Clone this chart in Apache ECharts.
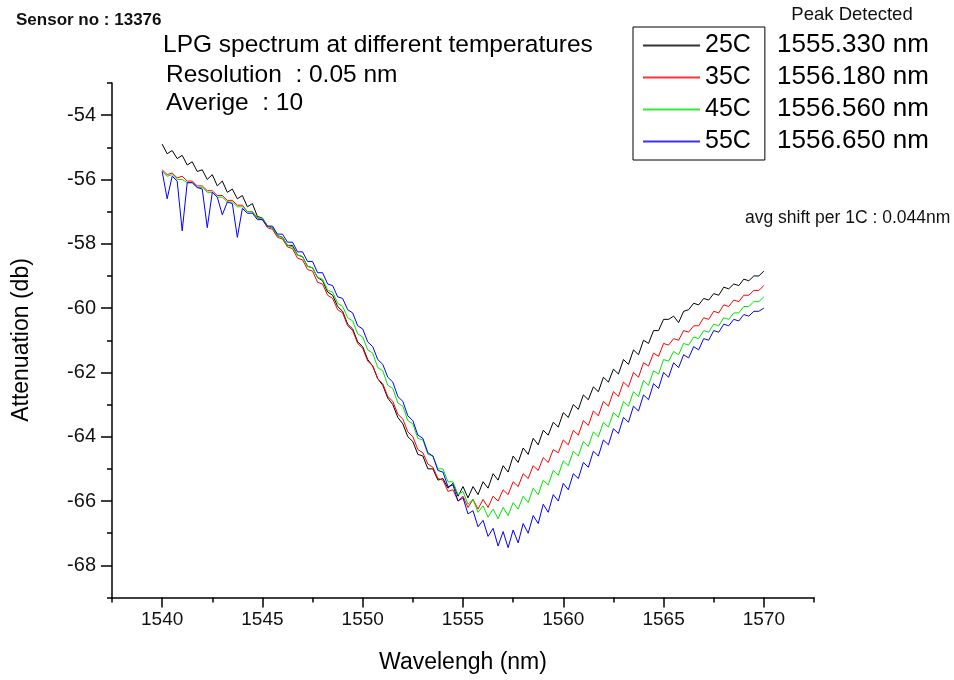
<!DOCTYPE html>
<html>
<head>
<meta charset="utf-8">
<script src="https://cdn.jsdelivr.net/npm/echarts@6/dist/echarts.min.js"></script>
<style>
  html, body { margin: 0; padding: 0; background: #fff; }
  #chart { width: 954px; height: 680px; }
</style>
</head>
<body>
<div id="chart"></div>
<script>
// Wavelength grid of the OSA sweep (nm), one row per nanometre
const wavelength = [
  1540, 1540.25, 1540.5, 1540.75, 1541, 1541.25, 1541.5, 1541.75,
  1542, 1542.25, 1542.5, 1542.75, 1543, 1543.25, 1543.5, 1543.75,
  1544, 1544.25, 1544.5, 1544.75, 1545, 1545.25, 1545.5, 1545.75,
  1546, 1546.25, 1546.5, 1546.75, 1547, 1547.25, 1547.5, 1547.75,
  1548, 1548.25, 1548.5, 1548.75, 1549, 1549.25, 1549.5, 1549.75,
  1550, 1550.25, 1550.5, 1550.75, 1551, 1551.25, 1551.5, 1551.75,
  1552, 1552.25, 1552.5, 1552.75, 1553, 1553.25, 1553.5, 1553.75,
  1554, 1554.25, 1554.5, 1554.75, 1555, 1555.25, 1555.5, 1555.75,
  1556, 1556.25, 1556.5, 1556.75, 1557, 1557.25, 1557.5, 1557.75,
  1558, 1558.25, 1558.5, 1558.75, 1559, 1559.25, 1559.5, 1559.75,
  1560, 1560.25, 1560.5, 1560.75, 1561, 1561.25, 1561.5, 1561.75,
  1562, 1562.25, 1562.5, 1562.75, 1563, 1563.25, 1563.5, 1563.75,
  1564, 1564.25, 1564.5, 1564.75, 1565, 1565.25, 1565.5, 1565.75,
  1566, 1566.25, 1566.5, 1566.75, 1567, 1567.25, 1567.5, 1567.75,
  1568, 1568.25, 1568.5, 1568.75, 1569, 1569.25, 1569.5, 1569.75,
  1570
];

// Attenuation (dB) at 25 C
const att25C = [
  -54.9, -55.2, -55.1, -55.35,   -55.25, -55.55, -55.45, -55.75,
  -55.7, -56.0, -55.85, -56.2,   -56.05, -56.4, -56.3, -56.6,
  -56.5, -56.85, -56.75, -57.15, -57.2, -57.45, -57.5, -57.75,
  -57.8, -58.05, -58.05, -58.35, -58.4, -58.7, -58.75, -59.05,
  -59.15, -59.5, -59.6, -59.95,  -60.1, -60.5, -60.65, -61.05,
  -61.2, -61.6, -61.8, -62.2,    -62.4, -62.8, -63.0, -63.4,
  -63.6, -64.0, -64.15, -64.55,  -64.6, -65.0, -65.0, -65.35,
  -65.3, -65.6, -65.45, -65.85,  -65.55, -65.9, -65.55, -65.8,
  -65.4, -65.6, -65.15, -65.35,  -64.9, -65.1, -64.6, -64.8,
  -64.35, -64.55, -64.05, -64.25, -63.8, -63.95, -63.55, -63.7,
  -63.25, -63.4, -63.0, -63.15,  -62.7, -62.85, -62.45, -62.6,
  -62.15, -62.3, -61.9, -62.05,  -61.6, -61.75, -61.3, -61.45,
  -61.0, -61.1, -60.7, -60.7,    -60.35, -60.35, -60.25, -60.45,
  -60.1, -60.05, -59.85, -59.9,  -59.7, -59.75, -59.55, -59.6,
  -59.35, -59.4, -59.25, -59.3,  -59.1, -59.15, -59.0, -59.0,
  -58.85
];

// Attenuation (dB) at 35 C
const att35C = [
  -55.7, -55.85, -55.8, -55.95,  -55.9, -56.05, -56.05, -56.2,
  -56.2, -56.35, -56.35, -56.5,  -56.5, -56.65, -56.65, -56.8,
  -56.8, -57.0, -57.0, -57.2,    -57.25, -57.5, -57.55, -57.8,
  -57.85, -58.1, -58.15, -58.45, -58.5, -58.8, -58.85, -59.2,
  -59.25, -59.6, -59.7, -60.05,  -60.15, -60.55, -60.7, -61.1,
  -61.25, -61.65, -61.8, -62.2,  -62.35, -62.75, -62.9, -63.3,
  -63.45, -63.85, -64.0, -64.4,  -64.5, -64.85, -64.95, -65.3,
  -65.35, -65.7, -65.65, -66.0,  -65.85, -66.2, -65.95, -66.25,
  -65.95, -66.2, -65.85, -66.0,  -65.65, -65.8, -65.4, -65.55,
  -65.15, -65.3, -64.9, -65.05,  -64.65, -64.8, -64.4, -64.5,
  -64.1, -64.25, -63.8, -63.95,  -63.5, -63.65, -63.2, -63.35,
  -62.9, -63.05, -62.6, -62.75,  -62.3, -62.45, -62.0, -62.15,
  -61.7, -61.8, -61.4, -61.5,    -61.1, -61.15, -60.95, -61.0,
  -60.7, -60.75, -60.55, -60.55, -60.3, -60.35, -60.1, -60.15,
  -59.9, -59.95, -59.75, -59.8,  -59.6, -59.6, -59.45, -59.45,
  -59.3
];

// Attenuation (dB) at 45 C
const att45C = [
  -55.75, -55.9, -55.85, -56.0,  -56.0, -56.1, -56.1, -56.25,
  -56.25, -56.4, -56.4, -56.55,  -56.55, -56.7, -56.7, -56.85,
  -56.85, -57.0, -57.0, -57.2,   -57.2, -57.45, -57.5, -57.75,
  -57.8, -58.05, -58.1, -58.35,  -58.4, -58.7, -58.75, -59.05,
  -59.1, -59.45, -59.5, -59.85,  -59.95, -60.3, -60.4, -60.8,
  -60.9, -61.3, -61.4, -61.85,   -61.95, -62.4, -62.5, -62.95,
  -63.05, -63.5, -63.6, -64.05,  -64.1, -64.55, -64.6, -65.0,
  -65.0, -65.4, -65.4, -65.8,    -65.7, -66.1, -65.95, -66.35,
  -66.15, -66.5, -66.25, -66.55, -66.2, -66.45, -66.05, -66.25,
  -65.85, -66.05, -65.6, -65.8,  -65.35, -65.5, -65.05, -65.2,
  -64.75, -64.9, -64.45, -64.6,  -64.15, -64.3, -63.85, -64.0,
  -63.55, -63.7, -63.25, -63.4,  -62.9, -63.05, -62.6, -62.75,
  -62.25, -62.4, -61.95, -62.05, -61.6, -61.65, -61.35, -61.45,
  -61.1, -61.15, -60.9, -60.95,  -60.7, -60.75, -60.5, -60.55,
  -60.3, -60.35, -60.15, -60.15, -59.95, -59.95, -59.8, -59.8,
  -59.65
];

// Attenuation (dB) at 55 C
const att55C = [
  -55.75, -56.6, -55.9, -56.05,  -57.6, -56.1, -56.1, -56.25,
  -56.3, -57.5, -56.4, -56.55,   -57.1, -56.7, -56.75, -57.8,
  -56.9, -57.05, -57.05, -57.25, -57.25, -57.45, -57.45, -57.7,
  -57.7, -57.95, -57.95, -58.25, -58.25, -58.55, -58.55, -58.9,
  -58.9, -59.25, -59.3, -59.65,  -59.7, -60.05, -60.15, -60.55,
  -60.65, -61.05, -61.2, -61.6,  -61.75, -62.15, -62.3, -62.75,
  -62.9, -63.35, -63.5, -63.95,  -64.05, -64.5, -64.6, -65.05,
  -65.1, -65.55, -65.5, -66.0,   -65.9, -66.4, -66.3, -66.8,
  -66.6, -67.1, -66.85, -67.4,   -66.95, -67.45, -66.9, -67.3,
  -66.7, -67.0, -66.45, -66.7,   -66.1, -66.35, -65.8, -66.0,
  -65.45, -65.65, -65.15, -65.3, -64.8, -64.95, -64.45, -64.6,
  -64.1, -64.25, -63.75, -63.9,  -63.4, -63.55, -63.05, -63.2,
  -62.7, -62.85, -62.35, -62.5,  -62.0, -62.15, -61.7, -61.85,
  -61.45, -61.55, -61.2, -61.3,  -60.95, -61.0, -60.7, -60.75,
  -60.5, -60.55, -60.35, -60.4,  -60.2, -60.25, -60.1, -60.1,
  -60.0
];

const seriesNames = ['25C', '35C', '45C', '55C'];
const peakLabels = ['1555.330 nm', '1556.180 nm', '1556.560 nm', '1556.650 nm'];

const xMajorTicks = [1540, 1545, 1550, 1555, 1560, 1565, 1570];
const xMinorTicks = [1537.5, 1542.5, 1547.5, 1552.5, 1557.5, 1562.5, 1567.5, 1572.5];
const yMajorTicks = [-68, -66, -64, -62, -60, -58, -56, -54];
const yMinorTicks = [-69, -67, -65, -63, -61, -59, -57, -55, -53];

const FONT = '"Liberation Sans", Arial, sans-serif';
const lineColors = ['#000000', '#ff0000', '#00e600', '#0000ff'];
const allSeries = [att25C, att35C, att45C, att55C];

const chart = echarts.init(document.getElementById('chart'), null, { renderer: 'canvas' });

const axisLineStyle = { color: '#000', width: 1.5 };

const option = {
  backgroundColor: '#ffffff',
  animation: false,
  grid: { left: 112, right: 140, top: 83, bottom: 82.5, containLabel: false },
  xAxis: [
    {
      type: 'value', min: 1537.5, max: 1572.5, position: 'bottom',
      axisLine: { show: true, lineStyle: axisLineStyle },
      axisTick: { show: true, inside: false, length: 10, lineStyle: axisLineStyle, customValues: xMajorTicks },
      axisLabel: { customValues: xMajorTicks, margin: 13, fontSize: 19, color: '#111', fontFamily: FONT,
                   formatter: v => String(v) },
      splitLine: { show: false }
    },
    {
      type: 'value', min: 1537.5, max: 1572.5, position: 'bottom',
      axisLine: { show: false },
      axisTick: { show: true, inside: false, length: 5, lineStyle: axisLineStyle, customValues: xMinorTicks },
      axisLabel: { show: false },
      splitLine: { show: false }
    }
  ],
  yAxis: [
    {
      type: 'value', min: -69, max: -53, position: 'left',
      axisLine: { show: true, lineStyle: axisLineStyle },
      axisTick: { show: true, inside: false, length: 11, lineStyle: axisLineStyle, customValues: yMajorTicks },
      axisLabel: { customValues: yMajorTicks, margin: 16, fontSize: 20, color: '#111', fontFamily: FONT,
                   formatter: v => String(v) },
      splitLine: { show: false }
    },
    {
      type: 'value', min: -69, max: -53, position: 'left',
      axisLine: { show: false },
      axisTick: { show: true, inside: false, length: 5, lineStyle: axisLineStyle, customValues: yMinorTicks },
      axisLabel: { show: false },
      splitLine: { show: false }
    }
  ],
  legend: {
    orient: 'vertical',
    left: 633, top: 27,
    padding: [6, 14, 6, 10],
    itemGap: 7,
    itemWidth: 57, itemHeight: 2,
    borderColor: '#000', borderWidth: 1,
    textStyle: { fontSize: 25, color: '#000', fontFamily: FONT, lineHeight: 25 },
    data: seriesNames.map((n, k) => ({
      name: n,
      icon: 'rect',
      itemStyle: { color: lineColors[k], borderWidth: 0, opacity: 0.8 }
    }))
  },
  series: seriesNames.map((name, k) => ({
    name: name,
    type: 'line',
    xAxisIndex: 0, yAxisIndex: 0,
    showSymbol: false, symbol: 'none',
    lineStyle: { width: 1, color: lineColors[k] },
    itemStyle: { color: lineColors[k] },
    data: wavelength.map((w, i) => [w, allSeries[k][i]]),
    z: 2 + k
  })),
  graphic: [
    { type: 'text', x: 16, y: 20, style: { text: 'Sensor no : 13376', font: 'bold 17px ' + FONT, fill: '#111', verticalAlign: 'middle' } },
    { type: 'text', x: 163, y: 45, style: { text: 'LPG spectrum at different temperatures', font: '24.5px ' + FONT, fill: '#000', verticalAlign: 'middle' } },
    { type: 'text', x: 166, y: 75, style: { text: 'Resolution  : 0.05 nm', font: '24.5px ' + FONT, fill: '#000', verticalAlign: 'middle' } },
    { type: 'text', x: 166, y: 103, style: { text: 'Averige  : 10', font: '24.5px ' + FONT, fill: '#000', verticalAlign: 'middle' } },
    { type: 'text', x: 852, y: 15, style: { text: 'Peak Detected', font: '18.5px ' + FONT, fill: '#111', align: 'center', verticalAlign: 'middle' } },
    { type: 'text', x: 745, y: 218, style: { text: 'avg shift per 1C : 0.044nm', font: '17.5px ' + FONT, fill: '#111', verticalAlign: 'middle' } },
    { type: 'text', x: 22, y: 340, rotation: Math.PI / 2, style: { text: 'Attenuation (db)', font: '23px ' + FONT, fill: '#000', align: 'center', verticalAlign: 'middle' } },
    { type: 'text', x: 463, y: 663, style: { text: 'Wavelengh (nm)', font: '23px ' + FONT, fill: '#000', align: 'center', verticalAlign: 'middle' } }
  ].concat(peakLabels.map((t, k) => ({
    type: 'text', x: 777, y: 45 + k * 31.9,
    style: { text: t, font: '26px ' + FONT, fill: '#000', verticalAlign: 'middle' }
  })))
};

chart.setOption(option);
</script>
</body>
</html>
